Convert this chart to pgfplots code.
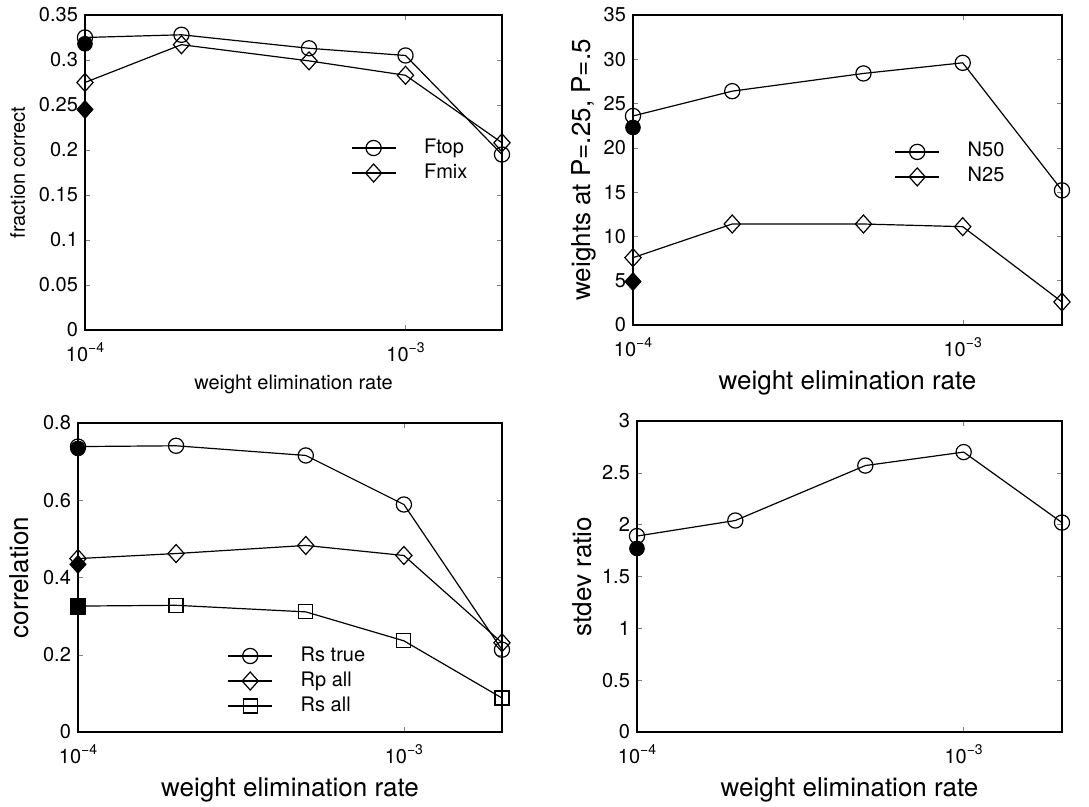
\documentclass[border=0pt]{standalone}
\usepackage{fontspec}
\setmainfont{TeX Gyre Heros}
\usepackage{pgfplots}
\pgfplotsset{compat=1.18}
\begin{document}
\begin{tikzpicture}
\useasboundingbox (0,0) rectangle (544.5pt,403.5pt);
% Top left
\begin{axis}[xmode=log, xmin=1e-4, xmax=2e-3, scale only axis,
  xtick={1e-4,1e-3},
  xticklabels={10\raisebox{0.8ex}{\fontsize{7}{8}\selectfont −4}, 10\raisebox{0.8ex}{\fontsize{7}{8}\selectfont −3}},
  xticklabel style={yshift=-3pt},
  xminorticks=false, yminorticks=false,
  tick align=inside, major tick length=2.5pt,
  axis line style={line width=0.8pt},
  /pgf/number format/assume math mode=true, /pgf/number format/fixed,
  tick label style={font=\fontsize{10}{12}\selectfont},
  legend style={draw=none, fill=none, inner sep=0pt, font=\fontsize{10}{12}\selectfont,
    nodes={inner sep=1.25pt, text height=7pt, text depth=2pt}, column sep=0pt, row sep=1pt},
  legend cell align=left,
  legend image code/.code={\path[draw=none,fill=none] (0pt,-3pt) rectangle (35pt,3pt); \draw[mark repeat=2,mark phase=2] plot coordinates {(0pt,0pt)(11pt,0pt)(22pt,0pt)};},
  anchor=south west, clip=false,
  at={(42.5pt,238.5pt)}, width=208.5pt, height=157.5pt,
  ymin=0, ymax=0.35, ytick={0,0.05,...,0.35},
  label style={font=\fontsize{10}{12}\selectfont},
  xlabel={weight elimination rate}, ylabel={fraction correct},
  legend style={at={(0.637,0.538)}, anchor=west}]
\addplot[black, line width=0.6pt, mark=o, mark size=3.8pt, mark options={solid, fill=none}] coordinates {(1e-4,0.325) (2e-4,0.328) (5e-4,0.313) (1e-3,0.305) (2e-3,0.195)};
\addlegendentry{Ftop}
\addplot[black, line width=0.6pt, mark=diamond, mark size=4.5pt, mark options={solid, fill=none, xscale=1.2}] coordinates {(1e-4,0.275) (2e-4,0.317) (5e-4,0.299) (1e-3,0.283) (2e-3,0.208)};
\addlegendentry{Fmix}
\addplot[black, only marks, forget plot, mark=*, mark size=3.7pt] coordinates {(1e-4,0.318)};
\addplot[black, only marks, forget plot, mark=diamond*, mark size=4.5pt, mark options={xscale=1.2}] coordinates {(1e-4,0.245)};
\end{axis}
% Top right
\begin{axis}[xmode=log, xmin=1e-4, xmax=2e-3, scale only axis,
  xtick={1e-4,1e-3},
  xticklabels={10\raisebox{0.8ex}{\fontsize{7}{8}\selectfont −4}, 10\raisebox{0.8ex}{\fontsize{7}{8}\selectfont −3}},
  xticklabel style={yshift=-3pt},
  xminorticks=false, yminorticks=false,
  tick align=inside, major tick length=2.5pt,
  axis line style={line width=0.8pt},
  /pgf/number format/assume math mode=true, /pgf/number format/fixed,
  tick label style={font=\fontsize{10}{12}\selectfont},
  label style={font=\fontsize{13}{15}\selectfont},
  legend style={draw=none, fill=none, inner sep=0pt, font=\fontsize{10}{12}\selectfont,
    nodes={inner sep=1.25pt, text height=7pt, text depth=2pt}, column sep=0pt, row sep=1pt},
  legend cell align=left,
  legend image code/.code={\path[draw=none,fill=none] (0pt,-3pt) rectangle (35pt,3pt); \draw[mark repeat=2,mark phase=2] plot coordinates {(0pt,0pt)(11pt,0pt)(22pt,0pt)};},
  anchor=south west, clip=false,
  at={(316.5pt,241pt)}, width=214.5pt, height=155pt,
  ymin=0, ymax=35, ytick={0,5,...,35},
  xlabel={weight elimination rate}, ylabel={weights at P=.25,  P=.5},
  ylabel style={yshift=-3pt},
  legend style={at={(0.609,0.518)}, anchor=west}]
\addplot[black, line width=0.6pt, mark=o, mark size=3.8pt, mark options={solid, fill=none}] coordinates {(1e-4,23.6) (2e-4,26.4) (5e-4,28.4) (1e-3,29.6) (2e-3,15.2)};
\addlegendentry{N50}
\addplot[black, line width=0.6pt, mark=diamond, mark size=4.5pt, mark options={solid, fill=none, xscale=1.2}] coordinates {(1e-4,7.6) (2e-4,11.4) (5e-4,11.4) (1e-3,11.1) (2e-3,2.6)};
\addlegendentry{N25}
\addplot[black, only marks, forget plot, mark=*, mark size=3.7pt] coordinates {(1e-4,22.3)};
\addplot[black, only marks, forget plot, mark=diamond*, mark size=4.5pt, mark options={xscale=1.2}] coordinates {(1e-4,4.9)};
\end{axis}
% Bottom left
\begin{axis}[xmode=log, xmin=1e-4, xmax=2e-3, scale only axis,
  xtick={1e-4,1e-3},
  xticklabels={10\raisebox{0.8ex}{\fontsize{7}{8}\selectfont −4}, 10\raisebox{0.8ex}{\fontsize{7}{8}\selectfont −3}},
  xticklabel style={yshift=-3pt},
  xminorticks=false, yminorticks=false,
  tick align=inside, major tick length=2.5pt,
  axis line style={line width=0.8pt},
  /pgf/number format/assume math mode=true, /pgf/number format/fixed,
  tick label style={font=\fontsize{10}{12}\selectfont},
  label style={font=\fontsize{13}{15}\selectfont},
  legend style={draw=none, fill=none, inner sep=0pt, font=\fontsize{10}{12}\selectfont,
    nodes={inner sep=1.25pt, text height=7pt, text depth=2pt}, column sep=0pt, row sep=1pt},
  legend cell align=left,
  legend image code/.code={\path[draw=none,fill=none] (0pt,-3pt) rectangle (35pt,3pt); \draw[mark repeat=2,mark phase=2] plot coordinates {(0pt,0pt)(11pt,0pt)(22pt,0pt)};},
  anchor=south west, clip=false,
  at={(39pt,37.5pt)}, width=212pt, height=154.5pt,
  ymin=0, ymax=0.8, ytick={0,0.2,0.4,0.6,0.8},
  xlabel={weight elimination rate}, ylabel={correlation},
  legend style={at={(0.352,0.165)}, anchor=west}]
\addplot[black, line width=0.6pt, mark=o, mark size=3.8pt, mark options={solid, fill=none}] coordinates {(1e-4,0.739) (2e-4,0.741) (5e-4,0.716) (1e-3,0.589) (2e-3,0.213)};
\addlegendentry{Rs true}
\addplot[black, line width=0.6pt, mark=diamond, mark size=4.5pt, mark options={solid, fill=none, xscale=1.2}] coordinates {(1e-4,0.449) (2e-4,0.462) (5e-4,0.483) (1e-3,0.457) (2e-3,0.231)};
\addlegendentry{Rp all}
\addplot[black, line width=0.6pt, mark=square, mark size=3.5pt, mark options={solid, fill=none}] coordinates {(1e-4,0.326) (2e-4,0.328) (5e-4,0.311) (1e-3,0.236) (2e-3,0.088)};
\addlegendentry{Rs all}
\addplot[black, only marks, forget plot, mark=*, mark size=3.7pt] coordinates {(1e-4,0.734)};
\addplot[black, only marks, forget plot, mark=diamond*, mark size=4.5pt, mark options={xscale=1.2}] coordinates {(1e-4,0.434)};
\addplot[black, only marks, forget plot, mark=square*, mark size=3.6pt] coordinates {(1e-4,0.324)};
\end{axis}
% Bottom right
\begin{axis}[xmode=log, xmin=1e-4, xmax=2e-3, scale only axis,
  xtick={1e-4,1e-3},
  xticklabels={10\raisebox{0.8ex}{\fontsize{7}{8}\selectfont −4}, 10\raisebox{0.8ex}{\fontsize{7}{8}\selectfont −3}},
  xticklabel style={yshift=-3pt},
  xminorticks=false, yminorticks=false,
  tick align=inside, major tick length=2.5pt,
  axis line style={line width=0.8pt},
  /pgf/number format/assume math mode=true, /pgf/number format/fixed,
  tick label style={font=\fontsize{10}{12}\selectfont},
  label style={font=\fontsize{13}{15}\selectfont},
  anchor=south west, clip=false,
  at={(318.5pt,37.5pt)}, width=212.5pt, height=155.5pt,
  ymin=0, ymax=3, ytick={0,0.5,...,3},
  xlabel={weight elimination rate}, ylabel={stdev ratio},
  ylabel style={yshift=-2pt}]
\addplot[black, line width=0.6pt, mark=o, mark size=3.8pt, mark options={solid, fill=none}] coordinates {(1e-4,1.89) (2e-4,2.04) (5e-4,2.57) (1e-3,2.70) (2e-3,2.02)};
\addplot[black, only marks, forget plot, mark=*, mark size=3.7pt] coordinates {(1e-4,1.77)};
\end{axis}
\end{tikzpicture}
\end{document}
